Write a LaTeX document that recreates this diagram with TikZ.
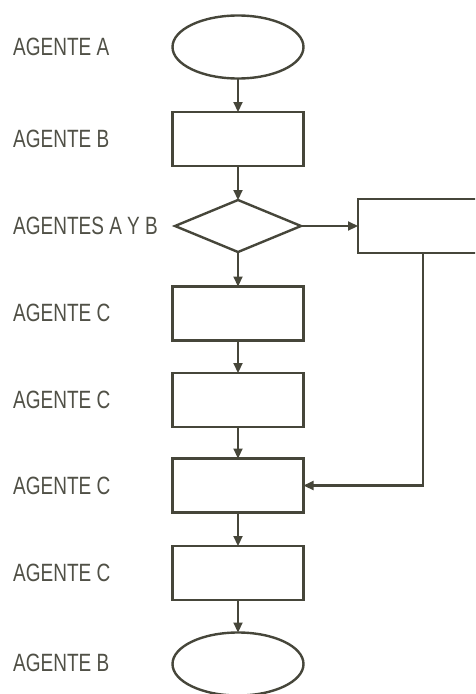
\documentclass[tikz,border=0pt]{standalone}
\usepackage{fontspec}
\setmainfont[FakeStretch=0.76]{Liberation Sans}
\usetikzlibrary{shapes.geometric,arrows.meta}
\definecolor{ink}{HTML}{46463A}
\definecolor{labelink}{HTML}{505046}
\begin{document}
\begin{tikzpicture}[x=1pt,y=-1pt,
  flow/.style={draw=ink,line width=2.4pt,inner sep=0pt,outer sep=0pt},
  terminal/.style={flow,ellipse,minimum width=131pt,minimum height=63pt},
  process/.style={flow,rectangle,minimum width=131pt,minimum height=54pt},
  decision/.style={flow,diamond,minimum width=126pt,minimum height=52pt},
  lane/.style={anchor=west,text=labelink,font=\fontsize{25}{25}\selectfont,inner sep=0pt},
  link/.style={draw=ink,line width=2.2pt,-{Triangle[length=10pt,width=9pt]}}]
\useasboundingbox (0,0) rectangle (475,694);
\clip (0,0) rectangle (475,694);

% lane labels
\node[lane] (lA)  at (13,47)  {AGENTE A};
\node[lane] (lB)  at (13,139) {AGENTE B};
\node[lane] (lAB) at (13,226) {AGENTES A Y B};
\node[lane] (lC1) at (13,313) {AGENTE C};
\node[lane] (lC2) at (13,400) {AGENTE C};
\node[lane] (lC3) at (13,486) {AGENTE C};
\node[lane] (lC4) at (13,573) {AGENTE C};
\node[lane] (lB2) at (13,663) {AGENTE B};

% flow shapes
\node[terminal] (start) at (238,47)  {};
\node[process]  (b)     at (238,139) {};
\node[decision] (d)     at (238,226) {};
\node[process,minimum width=160pt] (side) at (438,226) {};
\node[process]  (c1)    at (238,313.5) {};
\node[process]  (c2)    at (238,400) {};
\node[process]  (c3)    at (238,485.5) {};
\node[process]  (c4)    at (238,573) {};
\node[terminal] (stop)  at (238,664) {};
\coordinate (turn) at (423,485.5);

% connectors
\draw[link] (start) -- (b);
\draw[link] (b) -- (d);
\draw[link] (d) -- (side);
\draw[link] (d) -- (c1);
\draw[link] (c1) -- (c2);
\draw[link] (c2) -- (c3);
\draw[link] (c3) -- (c4);
\draw[link] (c4) -- (stop);
\draw[link] (side.south -| turn) -- (turn) -- (c3.east);
\end{tikzpicture}
\end{document}
